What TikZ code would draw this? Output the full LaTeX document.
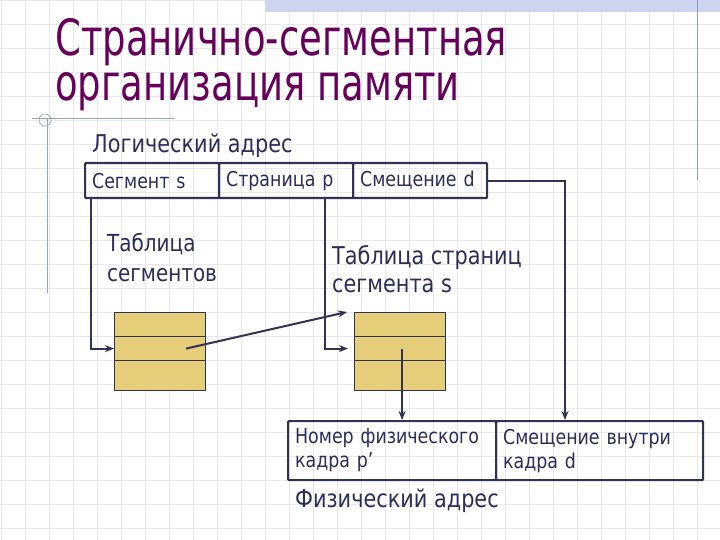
\documentclass[tikz,border=0pt]{standalone}
\usepackage{fontspec}
\setmainfont{DejaVu Sans}[FakeStretch=0.85]
\newfontfamily\titlefont{DejaVu Sans}[FakeStretch=0.74]
\usepackage{tikz}
\usetikzlibrary{arrows.meta}
\definecolor{titlec}{RGB}{102, 0, 90}
\definecolor{textc}{RGB}{45, 45, 90}
\definecolor{linec}{RGB}{50, 50, 85}
\definecolor{tabfill}{RGB}{230, 205, 122}
\definecolor{gridc}{RGB}{232, 232, 238}
\definecolor{decoc}{RGB}{150, 160, 200}
\definecolor{bandc}{RGB}{205, 212, 240}

\begin{document}
\begin{tikzpicture}[
        x=1pt, y=-1pt,
        lbl/.style={text=textc, anchor=base west, inner sep=0pt, align=left},
        cell/.style={draw=linec, line width=2.2pt, rounded corners=1pt, anchor=north west, inner xsep=7pt, inner ysep=0pt, text=textc, align=left, font=\fontsize{20.5}{24}\selectfont},
        row/.style={draw=linec, fill=tabfill, line width=1.2pt, minimum width=91pt, anchor=north west, inner sep=0pt},
        arr/.style={-{Stealth[length=9pt,width=7pt]}, line width=2pt, linec}
    ]
        \useasboundingbox (0,0) rectangle (720,540);
        % background of the slide
        \fill[white] (0,0) rectangle (720,540);
        \foreach \gx in {1,25,...,720} \draw[gridc, line width=0.6pt] (\gx,0) -- (\gx,540);
        \foreach \gy in {0,24,...,540} \draw[gridc, line width=0.6pt] (0,\gy) -- (720,\gy);
        \fill[bandc] (265,0) rectangle (720,12);
        \draw[decoc!80!gray, line width=1pt] (697,0) -- (697,180);
        \draw[decoc, line width=1pt] (47,118) -- (47,293);
        \draw[decoc, line width=1pt] (32,119) -- (174,119);
        \draw[decoc, line width=0.6pt] (45,120) circle (6);

        % title (base = last line)
        \node[lbl, text=titlec, font=\titlefont\fontsize{50}{45}\selectfont] (title) at (55,101) {Странично-сегментная\\организация памяти};

        % logical address
        \node[lbl, font=\fontsize{24.5}{30}\selectfont] (logaddr) at (92,153) {Логический адрес};
        \node[cell, minimum height=35pt, text width=120pt] (segs) at (84,162) {Сегмент s};
        \node[cell, minimum height=35pt, text width=120pt] (pages) at (218,162) {Страница p};
        \node[cell, minimum height=35pt, text width=120pt] (offs) at (352,162) {Смещение d};

        % tables
        \node[lbl, font=\fontsize{23.5}{30}\selectfont] (segtabl) at (107,281) {Таблица\\сегментов};
        \node[lbl, font=\fontsize{24.5}{28}\selectfont] (pagetabl) at (332,292) {Таблица страниц\\сегмента s};

        \node[row, minimum height=24pt] (t1a) at (114,312) {};
        \node[row, minimum height=24pt] (t1b) at (114,336) {};
        \node[row, minimum height=30pt] (t1c) at (114,360) {};
        \node[row, minimum height=24pt] (t2a) at (354,312) {};
        \node[row, minimum height=24pt] (t2b) at (354,336) {};
        \node[row, minimum height=30pt] (t2c) at (354,360) {};

        % physical address
        \node[cell, minimum height=59pt, text width=194pt] (phys1) at (287,420) {Номер физического\\кадра p’};
        \node[cell, minimum height=59pt, text width=193pt] (phys2) at (495,420) {Смещение внутри\\кадра d};
        \node[lbl, font=\fontsize{24.5}{30}\selectfont] (physaddr) at (295,507) {Физический адрес};

        \draw[arr] ([xshift=7pt]segs.south west) |- (t1b.west);
        \draw[arr] ([xshift=107pt]pages.south west) |- ([xshift=-6pt]t2b.west);
        \draw[arr] ([xshift=72pt]t1b.west) -- ([xshift=-7pt]t2a.north west);
        \draw[arr] ([xshift=2pt]t2b.center) -- ([xshift=2pt]t2b.center |- phys1.north);
        \draw[arr] (offs.east) -| ([xshift=70pt]phys2.north west);
    \end{tikzpicture}
\end{document}
